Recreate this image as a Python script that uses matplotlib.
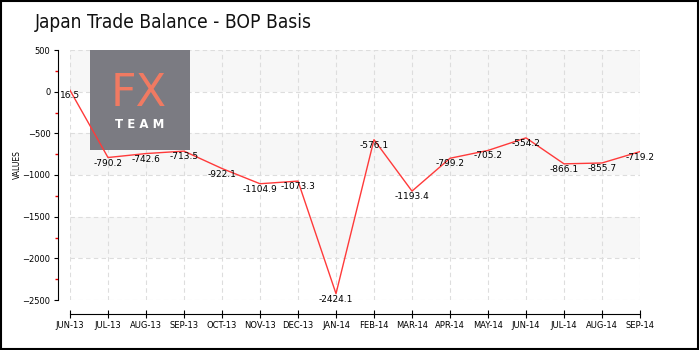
import numpy as np
import matplotlib.pyplot as plt
from matplotlib.patches import Rectangle
from matplotlib.ticker import MultipleLocator

# ——— DATA ———
months = ['JUN-13', 'JUL-13', 'AUG-13', 'SEP-13', 'OCT-13', 'NOV-13', 'DEC-13', 'JAN-14',
          'FEB-14', 'MAR-14', 'APR-14', 'MAY-14', 'JUN-14', 'JUL-14', 'AUG-14', 'SEP-14']
values = [16.5, -790.2, -742.6, -713.5, -922.1, -1104.9, -1073.3, -2424.1,
          -576.1, -1193.4, -799.2, -705.2, -554.2, -866.1, -855.7, -719.2]
y_ticks = [500, 0, -500, -1000, -1500, -2000, -2500]

fig = plt.figure(figsize=(7, 3.5), dpi=100)
fig.patch.set_facecolor('white')

# outer frame
fig.add_artist(Rectangle((0.002, 0.003), 0.995, 0.994, transform=fig.transFigure,
                         fill=False, edgecolor='black', lw=1.5))

fig.text(35 / 700, 1 - 22 / 350, 'Japan Trade Balance - BOP Basis', fontsize=13.8,
         va='center', ha='left', color='#111111', fontstretch='condensed')

ax = fig.add_axes([70 / 700, 50 / 350, 570 / 700, 250 / 350])
x = np.arange(len(months))
ax.set_xlim(0, len(months) - 1)
ax.set_ylim(-2500, 500)

# alternating bands
for lo in range(-2000, 500, 1000):
    ax.axhspan(lo, lo + 500, color='#f7f7f7', zorder=0, lw=0)

ax.grid(True, which='major', color='#dddddd', linestyle=(0, (4, 3)), lw=0.8)
ax.set_axisbelow(True)

# logo box (behind the line)
ax.add_patch(Rectangle((90 / 700, 1 - 150 / 350), 100 / 700, 100 / 350,
                       transform=fig.transFigure, facecolor='#7b7b82',
                       edgecolor='none', zorder=2, clip_on=False))
ax.text(139 / 700, 1 - 94 / 350, 'FX', fontsize=32, color='#f07a62', ha='center',
        va='center', zorder=2.2, transform=fig.transFigure)
ax.text(140 / 700, 1 - 124 / 350, 'T E A M', fontsize=8.5, color='white', ha='center',
        va='center', weight='bold', zorder=2.2, transform=fig.transFigure)

ax.plot(x, values, color='#ff3a3a', lw=1, zorder=3)
for xi, v in zip(x, values):
    ax.annotate(f'{v:g}', (xi, v), xytext=(0, -4), textcoords='offset points',
                ha='center', va='center', fontsize=6.5, zorder=4)

for s in ['top', 'right']:
    ax.spines[s].set_visible(False)
ax.spines['left'].set_position(('outward', 9))
ax.spines['bottom'].set_position(('outward', 10))

ax.set_xticks(x)
ax.set_xticklabels(months)
ax.set_yticks(y_ticks)
ax.yaxis.set_minor_locator(MultipleLocator(250))
ax.tick_params(axis='x', direction='inout', length=6, labelsize=6, pad=2)
ax.tick_params(axis='y', which='major', length=3, labelsize=6, pad=2)
ax.tick_params(axis='y', which='minor', length=2.5, width=1, color='#ee0000')
fig.text(17 / 700, 1 - 165 / 350, 'VALUES', fontsize=5.5, rotation=90,
         ha='center', va='center')

fig.savefig('out.png', dpi=100)
